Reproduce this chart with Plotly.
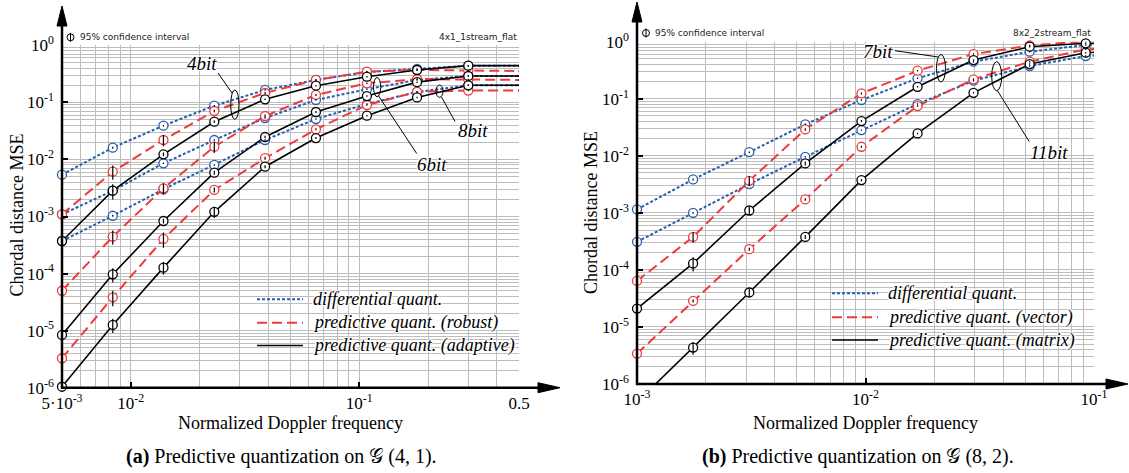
import math
import plotly.graph_objects as go

W, H = 1129, 473
SERIF = "Liberation Serif, Times New Roman, serif"
SANS = "DejaVu Sans, Verdana, sans-serif"
BLUE = "#2a5cad"
RED = "#ef3a3c"
BLACK = "#000000"
GRID = "#bdbdbd"

# ---------------- panel (a): G(4,1), 4x1 single stream, flat fading ----------------
fd_a = [0.005, 0.00834, 0.0139, 0.0232, 0.0387, 0.0646, 0.108, 0.179, 0.30, 0.50]

a_diff_4 = [5.4e-3, 1.61e-2, 3.9e-2, 8.75e-2, 0.165, 0.247, 0.34, 0.385, 0.44, 0.44]
a_rob_4 = [1.09e-3, 6.1e-3, 2.19e-2, 7.06e-2, 0.146, 0.247, 0.345, 0.369, 0.362, 0.355]
a_ada_4 = [3.72e-4, 2.83e-3, 1.23e-2, 4.58e-2, 0.113, 0.196, 0.282, 0.369, 0.44, 0.44]

a_diff_6 = [1.09e-3, 2.83e-3, 8.56e-3, 2.19e-2, 5.32e-2, 0.11, 0.17, 0.247, 0.29, 0.29]
a_rob_6 = [5.0e-5, 4.43e-4, 3.12e-3, 1.67e-2, 5.77e-2, 0.135, 0.216, 0.254, 0.252, 0.247]
a_ada_6 = [8.4e-6, 9.7e-5, 8.34e-4, 5.86e-3, 2.47e-2, 6.78e-2, 0.129, 0.226, 0.29, 0.29]

a_diff_8 = [3.72e-4, 1.03e-3, 3.0e-3, 8.0e-3, 2.19e-2, 5.11e-2, 9.36e-2, 0.152, 0.199, 0.199]
a_rob_8 = [3.28e-6, 3.84e-5, 4.04e-4, 2.92e-3, 1.05e-2, 3.37e-2, 8.99e-2, 0.153, 0.161, 0.161]
a_ada_8 = [1.04e-6, 1.26e-5, 1.27e-4, 1.21e-3, 7.46e-3, 2.37e-2, 5.84e-2, 0.122, 0.199, 0.199]

# relative half-width of the 95% confidence interval
ci_a_diff = [0.05, 0.04, 0.03, 0.03, 0.03, 0.03, 0.03, 0.03, 0.03, 0.03]
ci_a_rob_4 = [0.10, 0.28, 0.22, 0.05, 0.04, 0.03, 0.03, 0.03, 0.03, 0.03]
ci_a_rob_6 = [0.15, 0.28, 0.22, 0.22, 0.06, 0.04, 0.03, 0.03, 0.03, 0.03]
ci_a_rob_8 = [0.15, 0.30, 0.30, 0.10, 0.06, 0.04, 0.03, 0.03, 0.03, 0.03]
ci_a_ada_4 = [0.08, 0.30, 0.08, 0.05, 0.03, 0.03, 0.03, 0.03, 0.03, 0.03]
ci_a_ada_6 = [0.15, 0.28, 0.10, 0.08, 0.05, 0.04, 0.03, 0.03, 0.03, 0.03]
ci_a_ada_8 = [0.15, 0.28, 0.25, 0.22, 0.06, 0.04, 0.03, 0.03, 0.03, 0.03]

# ---------------- panel (b): G(8,2), 8x2 two streams, flat fading ----------------
fd_b = [0.001, 0.00176, 0.0031, 0.00545, 0.0096, 0.0169, 0.0297, 0.0523, 0.092, 0.162]

b_diff_7 = [1.15e-3, 3.85e-3, 1.16e-2, 3.56e-2, 9.5e-2, 0.228, 0.446, 0.668, 0.875, 0.91]
b_vec_7 = [6.4e-5, 3.79e-4, 3.64e-3, 2.9e-2, 0.124, 0.31, 0.608, 0.857, 1.02, 1.05]
b_mat_7 = [2.1e-5, 1.3e-4, 1.1e-3, 7.36e-3, 4.06e-2, 0.162, 0.477, 0.817, 0.937, 0.97]

b_diff_11 = [3.1e-4, 1.0e-3, 3.19e-3, 9.6e-3, 2.82e-2, 8.07e-2, 0.207, 0.375, 0.561, 0.63]
b_vec_11 = [3.41e-6, 2.86e-5, 2.31e-4, 1.72e-3, 1.44e-2, 7.45e-2, 0.219, 0.446, 0.736, 0.81]
b_mat_11 = [4.8e-7, 4.35e-6, 4.02e-5, 3.79e-4, 3.75e-3, 2.47e-2, 0.127, 0.406, 0.641, 0.715]

ci_b_diff = [0.05, 0.04, 0.03, 0.03, 0.03, 0.03, 0.03, 0.03, 0.03, 0.03]
ci_b_vec_7 = [0.08, 0.20, 0.20, 0.05, 0.04, 0.03, 0.03, 0.03, 0.03, 0.03]
ci_b_mat_7 = [0.10, 0.28, 0.15, 0.08, 0.04, 0.03, 0.03, 0.03, 0.03, 0.03]
ci_b_vec_11 = [0.10, 0.06, 0.06, 0.05, 0.04, 0.03, 0.03, 0.03, 0.03, 0.03]
ci_b_mat_11 = [0.20, 0.25, 0.15, 0.08, 0.05, 0.03, 0.03, 0.03, 0.03, 0.03]

# axis ranges (log10) and tick labels
range_a = [math.log10(0.005), math.log10(0.5)]
range_b = [-3, -1]
range_y = [-6, 0]
xticks_a = [0.005, 0.01, 0.1, 0.5]
xtext_a = ["5·10<sup>-3</sup>", "10<sup>-2</sup>", "10<sup>-1</sup>", "0.5"]
xticks_b = [0.001, 0.01, 0.1]
xtext_b = ["10<sup>-3</sup>", "10<sup>-2</sup>", "10<sup>-1</sup>"]
yticks = [1e-6, 1e-5, 1e-4, 1e-3, 1e-2, 1e-1, 1.0]
ytext = ["10<sup>-6</sup>", "10<sup>-5</sup>", "10<sup>-4</sup>", "10<sup>-3</sup>",
         "10<sup>-2</sup>", "10<sup>-1</sup>", "10<sup>0</sup>"]

legend_a = ["differential quant.", "predictive quant. (robust)", "predictive quant. (adaptive)"]
legend_b = ["differential quant.", "predictive quant. (vector)", "predictive quant. (matrix)"]


def X(p):
    return p / W


def Y(p):
    return 1 - p / H


LINE = {
    "diff": dict(color=BLUE, width=2, dash="3px,2px"),
    "pred": dict(color=RED, width=2, dash="10px,5px"),
    "ada": dict(color=BLACK, width=1.6, dash="solid"),
}

series = [
    # x, y, ci, style, axis suffix, x range
    (fd_a, a_diff_4, ci_a_diff, "diff", "", range_a),
    (fd_a, a_diff_6, ci_a_diff, "diff", "", range_a),
    (fd_a, a_diff_8, ci_a_diff, "diff", "", range_a),
    (fd_a, a_rob_4, ci_a_rob_4, "pred", "", range_a),
    (fd_a, a_rob_6, ci_a_rob_6, "pred", "", range_a),
    (fd_a, a_rob_8, ci_a_rob_8, "pred", "", range_a),
    (fd_a, a_ada_4, ci_a_ada_4, "ada", "", range_a),
    (fd_a, a_ada_6, ci_a_ada_6, "ada", "", range_a),
    (fd_a, a_ada_8, ci_a_ada_8, "ada", "", range_a),
    (fd_b, b_diff_7, ci_b_diff, "diff", "2", range_b),
    (fd_b, b_diff_11, ci_b_diff, "diff", "2", range_b),
    (fd_b, b_vec_7, ci_b_vec_7, "pred", "2", range_b),
    (fd_b, b_vec_11, ci_b_vec_11, "pred", "2", range_b),
    (fd_b, b_mat_7, ci_b_mat_7, "ada", "2", range_b),
    (fd_b, b_mat_11, ci_b_mat_11, "ada", "2", range_b),
]

fig = go.Figure()


def visible(xs, ys, ci, xr):
    keep = [i for i in range(len(xs))
            if xr[0] - 1e-6 <= math.log10(xs[i]) <= xr[1] + 1e-6
            and range_y[0] - 1e-6 <= math.log10(ys[i]) <= 0.05]
    return ([xs[i] for i in keep], [ys[i] for i in keep], [ci[i] for i in keep])


# curves
for xs, ys, ci, st, ax, xr in series:
    fig.add_trace(go.Scatter(x=xs, y=ys, mode="lines", line=LINE[st],
                             xaxis="x" + ax, yaxis="y" + ax,
                             hoverinfo="skip", showlegend=False))
# circle markers
for xs, ys, ci, st, ax, xr in series:
    vx, vy, vc = visible(xs, ys, ci, xr)
    fig.add_trace(go.Scatter(x=vx, y=vy, mode="markers",
                             marker=dict(symbol="circle", size=9, color="white",
                                         line=dict(color=LINE[st]["color"], width=1.3)),
                             xaxis="x" + ax, yaxis="y" + ax, cliponaxis=False,
                             hoverinfo="skip", showlegend=False))
# confidence intervals
for xs, ys, ci, st, ax, xr in series:
    vx, vy, vc = visible(xs, ys, ci, xr)
    fig.add_trace(go.Scatter(x=vx, y=vy, mode="markers",
                             marker=dict(size=1, color="rgba(0,0,0,0)"),
                             error_y=dict(type="data", symmetric=False,
                                          array=[v * c for v, c in zip(vy, vc)],
                                          arrayminus=[v * c for v, c in zip(vy, vc)],
                                          color="black", thickness=1.2, width=0),
                             xaxis="x" + ax, yaxis="y" + ax, cliponaxis=False,
                             hoverinfo="skip", showlegend=False))


def minor_vals(lo, hi):
    vals = []
    for e in range(-7, 1):
        for m in range(2, 10):
            v = m * 10.0 ** e
            if lo * 1.0001 < v < hi * 0.9999:
                vals.append(v)
    return vals


tickfont = dict(family=SERIF, size=17, color="black")


def xaxis(domain, rng, tv, tt, anchor):
    return dict(type="log", domain=domain, range=rng, anchor=anchor, automargin=False,
                tickmode="array", tickvals=tv, ticktext=tt, tickfont=tickfont,
                ticks="inside", ticklen=6, tickwidth=1.5, tickcolor="black",
                showgrid=True, gridcolor=GRID, gridwidth=1.2,
                showline=False, zeroline=False, ticklabelstandoff=3,
                minor=dict(tickvals=minor_vals(10 ** rng[0], 10 ** rng[1]),
                           showgrid=True, gridcolor=GRID, gridwidth=1.2, ticks=""))


def yaxis(domain, anchor):
    return dict(type="log", domain=domain, range=range_y, anchor=anchor, automargin=False,
                tickmode="array", tickvals=yticks, ticktext=ytext, tickfont=tickfont,
                ticks="inside", ticklen=6, tickwidth=1.5, tickcolor="black",
                showgrid=True, gridcolor=GRID, gridwidth=1,
                showline=False, zeroline=False, ticklabelstandoff=7,
                minor=dict(tickvals=minor_vals(1e-6, 1.0),
                           showgrid=True, gridcolor=GRID, gridwidth=1, ticks=""))


# plot areas in pixels: (a) x 62..519, y 45.3..387.7 ; (b) x 637..1094, y 41.7..384
A = dict(l=62, r=519, t=45.3, b=387.7)
B = dict(l=637, r=1094, t=41.7, b=384)

fig.update_layout(
    width=W, height=H, margin=dict(l=0, r=0, t=0, b=0, autoexpand=False),
    paper_bgcolor="white", plot_bgcolor="white", showlegend=False,
    xaxis=xaxis([X(A["l"]), X(A["r"])], range_a, xticks_a, xtext_a, "y"),
    yaxis=yaxis([Y(A["b"]), Y(A["t"])], "x"),
    xaxis2=xaxis([X(B["l"]), X(B["r"])], range_b, xticks_b, xtext_b, "y2"),
    yaxis2=yaxis([Y(B["b"]), Y(B["t"])], "x2"),
)

shapes = []
annotations = []
HALO = "1px 1px 1px #fff, -1px -1px 1px #fff, 1px -1px 1px #fff, -1px 1px 1px #fff, 0 0 3px #fff"


def seg(x0, y0, x1, y1, width=1.0, color="black", dash="solid"):
    shapes.append(dict(type="line", xref="paper", yref="paper",
                       x0=X(x0), y0=Y(y0), x1=X(x1), y1=Y(y1),
                       line=dict(color=color, width=width, dash=dash), layer="above"))


def tri(pts):
    d = "M " + " L ".join(f"{X(a):.5f},{Y(b):.5f}" for a, b in pts) + " Z"
    shapes.append(dict(type="path", xref="paper", yref="paper", path=d,
                       fillcolor="black", line=dict(color="black", width=1), layer="above"))


def ellipse(x0, y0, x1, y1):
    shapes.append(dict(type="circle", xref="paper", yref="paper",
                       x0=X(x0), y0=Y(y1), x1=X(x1), y1=Y(y0),
                       line=dict(color="black", width=1), layer="above"))


def text(x, y, s, size, family=SERIF, xanchor="center", angle=0, halo=False, color="black"):
    f = dict(family=family, size=size, color=color)
    if halo:
        f["shadow"] = HALO
    annotations.append(dict(xref="paper", yref="paper", x=X(x), y=Y(y), text=s,
                            showarrow=False, xanchor=xanchor, yanchor="middle",
                            textangle=angle, font=f))


# axes with arrow heads
for P, ytip, xtip in ((A, 6, 560), (B, 2, 1128)):
    seg(P["l"], P["b"] + 1, P["l"], ytip + 18, width=2.5)
    tri([(P["l"], ytip), (P["l"] - 5, ytip + 20), (P["l"] + 5, ytip + 20)])
    seg(P["l"] - 1, P["b"], xtip - 20, P["b"], width=2.5)
    tri([(xtip, P["b"]), (xtip - 22, P["b"] - 5), (xtip - 22, P["b"] + 5)])

# axis titles and captions
text((A["l"] + A["r"]) / 2, 423, "Normalized Doppler frequency", 18)
text((B["l"] + B["r"]) / 2, 423, "Normalized Doppler frequency", 18)
text(17, 215.5, "Chordal distance MSE", 18, angle=-90)
text(591, 213, "Chordal distance MSE", 18, angle=-90)
text(281.5, 456, "<b>(a)</b> Predictive quantization on 𝒢 (4, 1).", 20)
text(857.5, 456, "<b>(b)</b> Predictive quantization on 𝒢 (8, 2).", 20)

# confidence-interval note and scenario names
for cx, cy, name, nx in ((70.5, 37.3, "4x1_1stream_flat", 518.5), (646, 33, "8x2_2stream_flat", 1093)):
    ellipse(cx - 3.5, cy - 3.5, cx + 3.5, cy + 3.5)
    seg(cx, cy - 4.5, cx, cy + 4.5)
    text(cx + 7, cy, "95% confidence interval", 9, family=SANS, xanchor="left", color="#222")
    text(nx, cy, name, 9, family=SANS, xanchor="right", color="#222")

# legends
styles = ["diff", "pred", "ada"]
for (x0, x1, tx, ys, labels) in ((257, 303, 311, (299.3, 322.7, 345.5), legend_a),
                                 (832, 878, 886, (293.3, 317.3, 340), legend_b)):
    for st, yy, lab in zip(styles, ys, labels):
        ln = LINE[st]
        seg(x0, yy, x1, yy, width=ln["width"], color=ln["color"], dash=ln["dash"])
        text(tx, yy, f"<i>{lab}</i>", 18, xanchor="left", halo=True)

# bit-resolution labels with leader lines
bitlabels = [
    # label, text centre, leader start, leader end, ellipse box
    ("4bit", (201.7, 64), (218, 73), (232, 93), (230.7, 90, 239, 119.3)),
    ("6bit", (431.7, 165), (416.7, 153.5), (378.3, 95.5), (373.5, 77.5, 380.7, 96.7)),
    ("8bit", (472.5, 130.5), (455, 121.5), (441.5, 97), (436, 85, 443, 97.3)),
    ("7bit", (878.3, 51.5), (895, 50.7), (938.3, 57), (936.5, 54.5, 945.5, 82)),
    ("11bit", (1049, 152), (1029.3, 141.7), (997.3, 90.5), (991.7, 61.7, 1001.7, 90.7)),
]
for lab, (tx, ty), (lx0, ly0), (lx1, ly1), (ex0, ey0, ex1, ey1) in bitlabels:
    ellipse(ex0, ey0, ex1, ey1)
    seg(lx0, ly0, lx1, ly1, width=1)
    text(tx, ty, f"<i>{lab}</i>", 19, halo=True)

fig.update_layout(shapes=shapes, annotations=annotations)
fig.write_html("out.html")
